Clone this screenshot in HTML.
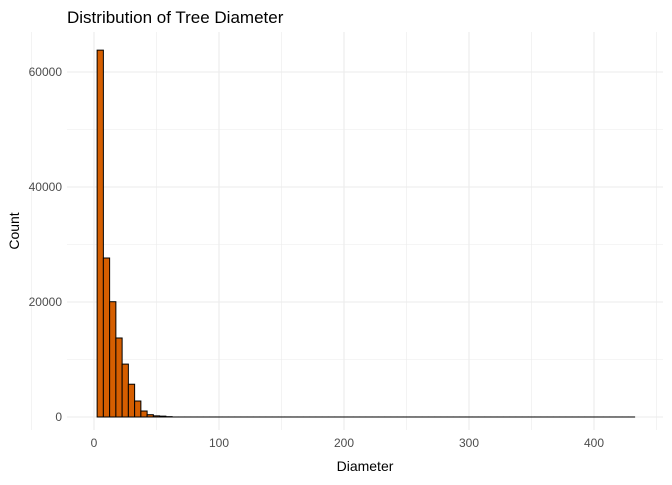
<!DOCTYPE html>
<html><head><meta charset="utf-8"><style>
body{margin:0;background:#fff;font-family:"Liberation Sans",sans-serif;}
</style></head><body>
<svg id="chart" width="672" height="480" xmlns="http://www.w3.org/2000/svg" font-family="Liberation Sans, sans-serif">
<text x="67" y="23" font-size="17" fill="#000">Distribution of Tree Diameter</text>
<g id="grid"></g><g id="bars"></g><g id="ticks"></g>
<text x="365" y="471" font-size="14" text-anchor="middle">Diameter</text>
<text transform="translate(19,231) rotate(-90)" font-size="14" text-anchor="middle">Count</text>
</svg>
<script>
const binWidth = 5;
const binCenters = [5,10,15,20,25,30,35,40,45,50,55,60];
const counts = [63800,27650,20050,13740,9200,5700,2780,1040,400,200,150,60];
const tailBinCount = 74; // remaining bins up to 430
const tailCounts = Array(tailBinCount).fill(3);
const xTicks = [0,100,200,300,400];
const yTicks = [0,20000,40000,60000];
const allCenters = binCenters.concat(tailCounts.map((_, i) => 65 + i * 5));
const allCounts = counts.concat(tailCounts);
const x = v => 94 + v * 1.25;
const y = v => 417 - v * 115 / 20000;
const NS = "http://www.w3.org/2000/svg";
const grid = document.getElementById('grid'), bars = document.getElementById('bars'), ticks = document.getElementById('ticks');
function mk(tag, attrs, parent){const e=document.createElementNS(NS,tag);for(const k in attrs)e.setAttribute(k,attrs[k]);parent.appendChild(e);return e;}
for (let v = -50; v <= 450; v += 50) {
  const l = mk('line',{x1:x(v),x2:x(v),y1:32,y2:430,stroke:'#ebebeb','stroke-width':v%100===0?1.1:0.6},grid);
  
  
}
for (let v = -10000; v <= 70000; v += 10000) {
  if (y(v) < 32 || y(v) > 430) continue;
  const l = mk('line',{x1:67,x2:663,y1:y(v),y2:y(v),stroke:'#ebebeb','stroke-width':v%20000===0?1.1:0.6},grid);
  
  
}
allCenters.forEach((c, i) => {
  const v = allCounts[i];
  const r = mk('rect',{x:x(c-binWidth/2),y:y(v),width:binWidth*1.25,height:Math.max(417-y(v),0),fill:'#d55e00',stroke:'#000','stroke-width':1},bars);
  
  
});
xTicks.forEach(v => {
  const t = mk('text',{x:x(v),y:447,'font-size':12,fill:'#4d4d4d','text-anchor':'middle'},ticks);
  t.textContent = v;
  
  
});
yTicks.forEach(v => {
  const t = mk('text',{x:62,y:y(v)+4,'font-size':12,fill:'#4d4d4d','text-anchor':'end'},ticks);
  t.textContent = v;
  
  
});
</script>
</body></html>
